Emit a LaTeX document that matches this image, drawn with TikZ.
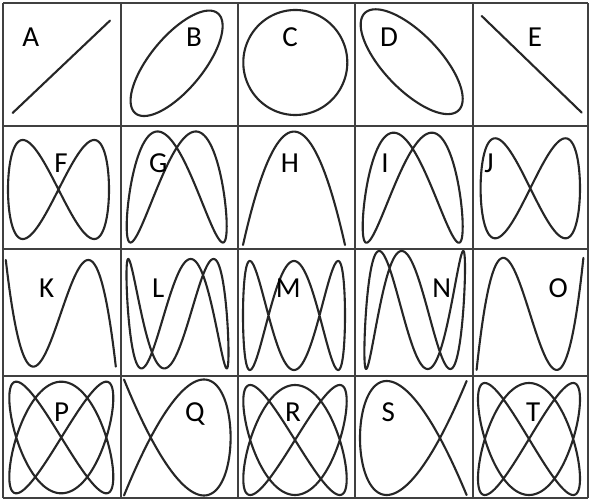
\documentclass[tikz,border=0pt]{standalone}
\usepackage{fontspec}
\setmainfont{Carlito}
\newcommand{\lissa}[7]{\draw[curvestyle] plot[domain=0:360,samples=361,smooth] ({#1+#3*sin(#5*\x)},{501-#2+#4*sin(#6*\x+#7)});}
\begin{document}
\begin{tikzpicture}[x=1pt,y=1pt,
  curvestyle/.style={line width=2.1pt,color=black!85,line join=round,line cap=round},
  gridline/.style={line width=2pt,color=black!75},
  lbl/.style={anchor=base,font=\fontsize{29}{29}\selectfont,inner sep=0pt,text=black}]
\useasboundingbox (0,0) rectangle (592,501);
\fill[white] (0,0) rectangle (592,501);
% grid
\foreach \gx in {3,120.7,237.5,354.5,472.5,588.3}
  \draw[gridline] (\gx,3) -- (\gx,498);
\foreach \gy in {498,375.3,252,125,3}
  \draw[gridline] (3,\gy) -- (588.3,\gy);
% row 1: 1:1
\lissa{61.3}{66.8}{48.7}{46.2}{1}{1}{0}
\lissa{176.6}{63.3}{46}{52.7}{1}{1}{45}
\lissa{295.3}{62.5}{52}{52.5}{1}{1}{90}
\lissa{411.7}{61.7}{51}{52.4}{1}{1}{135}
\lissa{531.7}{64.3}{50}{48.3}{1}{1}{180}
% row 2: 1:2
\lissa{58.5}{189.5}{50.5}{49.5}{1}{2}{0}
\lissa{176.7}{187}{50}{55.5}{1}{2}{45}
\lissa{294}{188.3}{51}{56.7}{1}{2}{90}
\lissa{412.7}{187.7}{50}{55}{1}{2}{135}
\lissa{530.3}{188.3}{49.7}{50}{1}{2}{180}
% row 3: 1:3
\lissa{60.8}{313.3}{55}{53.3}{1}{3}{0}
\lissa{177.5}{313.7}{51}{54.7}{1}{3}{45}
\lissa{294}{315.5}{51}{54.5}{1}{3}{90}
\lissa{414.7}{310}{50.3}{59}{1}{3}{135}
\lissa{530}{313.9}{53.4}{56}{1}{3}{180}
% row 4: 2:3
\lissa{61.3}{437.5}{52}{55.8}{2}{3}{0}
\lissa{177.3}{437.5}{53.3}{58}{2}{3}{45}
\lissa{295}{440}{51.7}{55}{2}{3}{90}
\lissa{413.3}{438}{53.3}{57}{2}{3}{135}
\lissa{529}{439}{51}{56}{2}{3}{180}
% labels
\node[lbl] (A) at (30.7,454.3) {A};
\node[lbl] (B) at (194,454.3) {B};
\node[lbl] (C) at (290,454.3) {C};
\node[lbl] (D) at (389,454.3) {D};
\node[lbl] (E) at (535,454.3) {E};
\node[lbl] (F) at (61,328.7) {F};
\node[lbl] (G) at (158.3,328.7) {G};
\node[lbl] (H) at (290,328.7) {H};
\node[lbl] (I) at (385,328.7) {I};
\node[lbl] (J) at (489,328.7) {J};
\node[lbl] (K) at (46.7,203.7) {K};
\node[lbl] (L) at (158.3,203.7) {L};
\node[lbl] (M) at (288.3,203.7) {M};
\node[lbl] (N) at (441.7,203.7) {N};
\node[lbl] (O) at (558.3,203.7) {O};
\node[lbl] (P) at (61.7,79.3) {P};
\node[lbl] (Q) at (195,79.3) {Q};
\node[lbl] (R) at (293,79.3) {R};
\node[lbl] (S) at (388.3,79.3) {S};
\node[lbl] (T) at (533.3,79.3) {T};
\end{tikzpicture}
\end{document}
